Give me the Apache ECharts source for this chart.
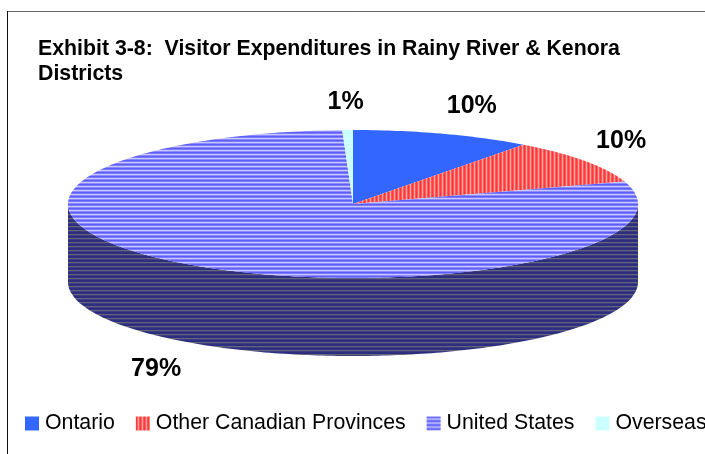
<!DOCTYPE html>
<html><head><meta charset="utf-8">
<style>html,body{margin:0;padding:0;background:#fff}#c{width:705px;height:454px}</style>
<script src="https://cdn.jsdelivr.net/npm/echarts@6/dist/echarts.min.js"></script>
</head><body><div id="c"></div>
<script>
var titleText = 'Exhibit 3-8:  Visitor Expenditures in Rainy River & Kenora\nDistricts';
var categories = ['Ontario', 'Other Canadian Provinces', 'United States', 'Overseas'];
var shares = [10.2, 9.9, 79.3, 0.6];

var FONT = '"Liberation Sans", Arial, sans-serif';
var cx = 353, cy = 204, rx = 285, ry = 74, depth = 78;
var labelOffsets = [[29, -28], [36, -20], [-33, 105], [-2, -28]];

function stripes(dir, cols) {
  var cv = document.createElement('canvas');
  var p = cols.length;
  cv.width = dir === 'v' ? p : 2; cv.height = dir === 'v' ? 2 : p;
  var g = cv.getContext('2d');
  cols.forEach(function (c, i) {
    g.fillStyle = c;
    if (dir === 'v') g.fillRect(i, 0, 1, cv.height); else g.fillRect(0, i, cv.width, 1);
  });
  return { image: cv, repeat: 'repeat' };
}
var topFills = [
  '#3366ff',
  stripes('v', ['#ff3838', '#ff5a5a', '#ffa8a8', '#ff5858']),
  stripes('h', ['#5c5cff', '#7c7cff', '#c8c8ff', '#8c8cff']),
  '#ccffff'
];
var wallFills = [
  '#1a3380',
  '#802020',
  stripes('h', ['#2e2e80', '#2e2e80', '#66667a', '#3c3c80']),
  '#668080'
];

function pt(deg, dy) {
  var a = deg * Math.PI / 180;
  return [cx + rx * Math.sin(a), cy - ry * Math.cos(a) + (dy || 0)];
}
function arc(a0, a1, dy) {
  var out = [], n = Math.max(2, Math.ceil(Math.abs(a1 - a0)));
  for (var i = 0; i <= n; i++) out.push(pt(a0 + (a1 - a0) * i / n, dy));
  return out;
}
var total = shares.reduce(function (s, v) { return s + v; }, 0);
function startAngle(idx) {
  var s = 0;
  for (var i = 0; i < idx; i++) s += shares[i];
  return s / total * 360;
}
function makeRender(idx) {
  return function (params, api) {
    var v = api.value(0);
    var a0 = startAngle(idx), a1 = a0 + v / total * 360;
    var kids = [];
    var w0 = Math.max(a0, 90), w1 = Math.min(a1, 270);
    if (w1 > w0) {
      kids.push({ type: 'polygon', silent: true,
        shape: { points: arc(w0, w1, 0).concat(arc(w1, w0, depth)) },
        style: { fill: wallFills[idx] } });
    }
    kids.push({ type: 'polygon', silent: true,
      shape: { points: [[cx, cy]].concat(arc(a0, a1, 0)) },
      style: { fill: topFills[idx] } });
    var mid = pt((a0 + a1) / 2, 0);
    kids.push({ type: 'text', silent: true, z2: 50,
      style: { text: Math.round(v) + '%', x: mid[0] + labelOffsets[idx][0], y: mid[1] + labelOffsets[idx][1],
        fontFamily: FONT, fontSize: 25, fontWeight: 'bold', fill: '#000',
        align: 'center', verticalAlign: 'middle' } });
    return { type: 'group', children: kids };
  };
}
var series = categories.map(function (name, i) {
  return { type: 'custom', name: name, coordinateSystem: 'none', animation: false, silent: true,
    clip: false, data: [[shares[i]]], renderItem: makeRender(i),
    itemStyle: { color: topFills[i] } };
});
var chart = echarts.init(document.getElementById('c'), null, { renderer: 'canvas' });
chart.setOption({
  backgroundColor: '#ffffff',
  animation: false,
  title: { text: titleText, left: 38, top: 37, padding: 0,
    textStyle: { fontFamily: FONT, fontSize: 21.3, fontWeight: 'bold', color: '#000', lineHeight: 25 } },
  legend: { data: categories, left: 25, top: 413, padding: 0, width: 900, itemWidth: 14, itemHeight: 14,
    itemGap: 21, icon: 'rect', selectedMode: false,
    textStyle: { fontFamily: FONT, fontSize: 21.3, color: '#000', padding: [0, 0, 0, 1] } },
  graphic: [
    { type: 'line', silent: true, shape: { x1: 7.5, y1: 11.5, x2: 705, y2: 11.5 }, style: { stroke: '#666', lineWidth: 1 } },
    { type: 'line', silent: true, shape: { x1: 7.5, y1: 11, x2: 7.5, y2: 454 }, style: { stroke: '#111', lineWidth: 1 } }
  ],
  series: series
});
</script></body></html>
